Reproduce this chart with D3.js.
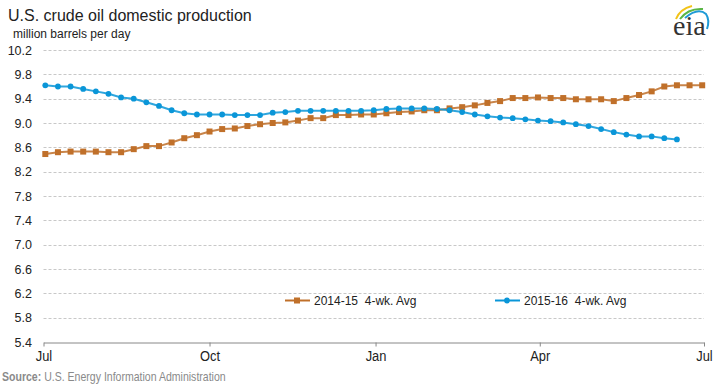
<!DOCTYPE html>
<html><head><meta charset="utf-8">
<script src="https://cdn.jsdelivr.net/npm/d3@7"></script>
<style>body{margin:0;background:#fff} svg{display:block} text{white-space:pre}</style>
</head><body><svg id="c" width="718" height="384"></svg>
<script>
const seriesNames = ["2014-15  4-wk. Avg", "2015-16  4-wk. Avg"];
const values1415 = [8.49, 8.52, 8.53, 8.53, 8.53, 8.52, 8.52, 8.57, 8.62, 8.62, 8.68, 8.75, 8.80,
  8.86, 8.90, 8.91, 8.95, 8.98, 9.00, 9.01, 9.04, 9.08, 9.08, 9.13, 9.13, 9.14, 9.14,
  9.16, 9.18, 9.19, 9.21, 9.21, 9.24, 9.26, 9.29, 9.33, 9.36, 9.41, 9.41, 9.42,
  9.41, 9.41, 9.39, 9.39, 9.39, 9.36, 9.41, 9.46, 9.52, 9.60, 9.62, 9.62, 9.62];
const values1516 = [9.62, 9.60, 9.60, 9.56, 9.52, 9.48, 9.42, 9.40, 9.34, 9.28, 9.21, 9.16, 9.14,
  9.14, 9.14, 9.13, 9.13, 9.13, 9.17, 9.18, 9.20, 9.20, 9.20, 9.20, 9.20, 9.20, 9.21,
  9.23, 9.24, 9.24, 9.24, 9.23, 9.21, 9.18, 9.14, 9.11, 9.09, 9.08, 9.06, 9.04,
  9.03, 9.01, 8.98, 8.95, 8.90, 8.85, 8.81, 8.78, 8.78, 8.75, 8.73];
const firstWeek = "2015-07-02";
const yTicks = [10.2, 9.8, 9.4, 9.0, 8.6, 8.2, 7.8, 7.4, 7.0, 6.6, 6.2, 5.8, 5.4];
const xTickDates = ["2015-07-01", "2015-10-01", "2016-01-01", "2016-04-01", "2016-07-01"];
const xTickLabels = ["Jul", "Oct", "Jan", "Apr", "Jul"];
const colors = ["#c0702a", "#0a96d8"];

const parse = d3.timeParse("%Y-%m-%d");
const start = parse(firstWeek);
const weekDates = n => d3.range(n).map(i => d3.timeDay.offset(start, 7 * i));
const s1 = values1415.map((v, i) => ({d: weekDates(values1415.length)[i], v}));
const s2 = values1516.map((v, i) => ({d: weekDates(values1516.length)[i], v}));

const svg = d3.select("#c");
const x = d3.scaleTime().domain([parse(xTickDates[0]), parse(xTickDates[4])]).range([43.5, 704]);
const y = d3.scaleLinear().domain([5.4, 10.2]).range([342, 50]);

// gridlines
svg.append("g").selectAll("line").data(yTicks.filter(t => t > 5.4)).join("line")
  .attr("x1", 43.5).attr("x2", 704).attr("y1", d => Math.round(y(d)) + 0.5).attr("y2", d => Math.round(y(d)) + 0.5)
  .attr("stroke", "#c8c8c8").attr("stroke-dasharray", "3,2").attr("stroke-width", 1);

// y labels
svg.append("g").selectAll("text").data(yTicks).join("text")
  .attr("x", 32).attr("y", d => y(d) + 4.5).attr("text-anchor", "end")
  .attr("font-family", "Liberation Sans, Arial, sans-serif").attr("font-size", 12.5).attr("fill", "#222")
  .text(d => d.toFixed(1));

// x axis
const xAxis = d3.axisBottom(x).tickValues(xTickDates.map(parse)).tickFormat((d, i) => xTickLabels[i]).tickSize(4).tickSizeOuter(0);
const gx = svg.append("g").attr("transform", "translate(0,342.5)").call(xAxis);
gx.select(".domain").attr("stroke", "#888");
gx.selectAll(".tick line").attr("stroke", "#888");
gx.selectAll(".tick text").attr("font-family", "Liberation Sans, Arial, sans-serif")
  .attr("font-size", 14).attr("fill", "#222").attr("dy", "0.5em").attr("y", 12)
  .attr("transform", "scale(0.92,1)");

// lines
const line = d3.line().x(d => x(d.d)).y(d => y(d.v));
[s1, s2].forEach((s, k) => {
  svg.append("path").datum(s).attr("d", line).attr("fill", "none")
    .attr("stroke", colors[k]).attr("stroke-width", 2).attr("stroke-opacity", 0.85);
});
svg.append("g").selectAll("rect").data(s1).join("rect")
  .attr("x", d => x(d.d) - 3).attr("y", d => y(d.v) - 3).attr("width", 6).attr("height", 6).attr("fill", colors[0]);
svg.append("g").selectAll("circle").data(s2).join("circle")
  .attr("cx", d => x(d.d)).attr("cy", d => y(d.v)).attr("r", 2.9).attr("fill", colors[1]);

// legend
const lg = svg.append("g").attr("font-family", "Liberation Sans, Arial, sans-serif").attr("font-size", 12).attr("fill", "#222");
lg.append("line").attr("x1", 285).attr("x2", 310).attr("y1", 300.5).attr("y2", 300.5).attr("stroke", colors[0]).attr("stroke-width", 2);
lg.append("rect").attr("x", 294).attr("y", 297.5).attr("width", 6).attr("height", 6).attr("fill", colors[0]);
lg.append("text").attr("x", 314).attr("y", 305).text(seriesNames[0]);
lg.append("line").attr("x1", 495).attr("x2", 520).attr("y1", 300.5).attr("y2", 300.5).attr("stroke", colors[1]).attr("stroke-width", 2);
lg.append("circle").attr("cx", 507).attr("cy", 300.5).attr("r", 2.9).attr("fill", colors[1]);
lg.append("text").attr("x", 524).attr("y", 305).text(seriesNames[1]);

// titles
svg.append("text").attr("x", 8).attr("y", 21).attr("font-family", "Liberation Sans, Arial, sans-serif")
  .attr("font-size", 16).attr("fill", "#222").text("U.S. crude oil domestic production");
svg.append("text").attr("x", 13).attr("y", 38).attr("font-family", "Liberation Sans, Arial, sans-serif")
  .attr("font-size", 12).attr("fill", "#222").text("million barrels per day");

// source
const src = svg.append("text").attr("x", 0).attr("y", 0)
  .attr("font-family", "Liberation Sans, Arial, sans-serif").attr("font-size", 12).attr("fill", "#8a8a8a");
src.append("tspan").attr("font-weight", "bold").text("Source:");
src.append("tspan").text(" U.S. Energy Information Administration");
const srcW = src.node().getComputedTextLength();
src.attr("transform", `translate(2,381) scale(${224 / srcW},1)`);

// logo
const logo = svg.append("g");
logo.append("path").attr("d", "M676,19 Q680,9 692,6").attr("fill", "none").attr("stroke", "#f2c318").attr("stroke-width", 2);
logo.append("path").attr("d", "M680,19 Q688,8 703,9").attr("fill", "none").attr("stroke", "#5ab646").attr("stroke-width", 2);
logo.append("path").attr("d", "M685,18 Q698,7 706,14 Q710,20 707,29").attr("fill", "none").attr("stroke", "#1e9ad6").attr("stroke-width", 2);
logo.append("text").attr("x", 673).attr("y", 35).attr("font-family", "Liberation Serif, DejaVu Serif, serif")
  .attr("font-size", 28).attr("fill", "#333").text("eia");
</script></body></html>
